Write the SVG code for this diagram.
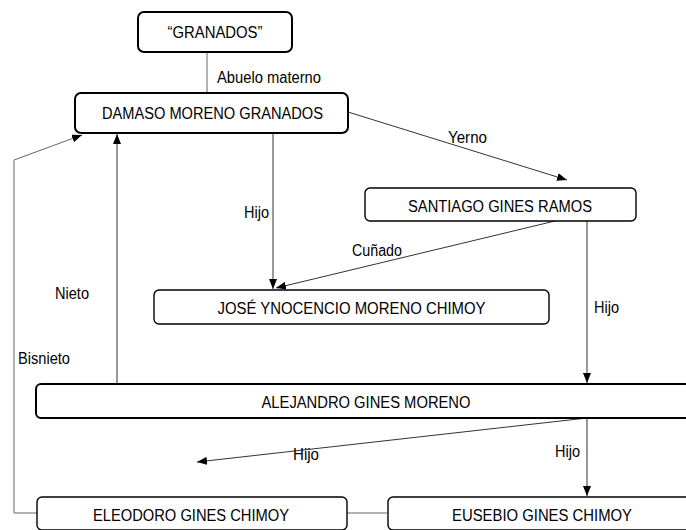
<svg xmlns="http://www.w3.org/2000/svg" width="686" height="530" viewBox="0 0 686 530">
<style>
.box{fill:#fff;stroke:#000;stroke-width:1.4}
.thick{stroke-width:2}
.t{font-family:"Liberation Sans",Arial,sans-serif;font-size:16px;fill:#000}
.c{text-anchor:middle}
.ln{fill:none;stroke:#333;stroke-width:1}
.lg{fill:none;stroke:#666;stroke-width:1}
</style>
<defs>
<marker id="ah" viewBox="0 0 10 8" refX="10" refY="4" markerWidth="10" markerHeight="8" markerUnits="userSpaceOnUse" orient="auto">
<path d="M0,0 L10,4 L0,8 Z" fill="#000"/>
</marker>
</defs>
<rect width="686" height="530" fill="#fff"/>
<g id="connectors">
<path class="lg" d="M207,53 V93"/>
<text class="t" x="217" y="83" textLength="104" lengthAdjust="spacingAndGlyphs">Abuelo materno</text>
<path class="ln" d="M348,112 L567,180" marker-end="url(#ah)"/>
<text class="t" x="448" y="143" textLength="39" lengthAdjust="spacingAndGlyphs">Yerno</text>
<path class="ln" d="M273,133 V289" marker-end="url(#ah)"/>
<text class="t" x="244" y="218" textLength="25" lengthAdjust="spacingAndGlyphs">Hijo</text>
<path class="ln" d="M555,221 L276,288" marker-end="url(#ah)"/>
<text class="t" x="352" y="256" textLength="50" lengthAdjust="spacingAndGlyphs">Cuñado</text>
<path class="ln" d="M587,221 V383" marker-end="url(#ah)"/>
<text class="t" x="594" y="313" textLength="25" lengthAdjust="spacingAndGlyphs">Hijo</text>
<path class="ln" d="M117,384 V134" marker-end="url(#ah)"/>
<text class="t" x="55" y="299" textLength="34" lengthAdjust="spacingAndGlyphs">Nieto</text>
<path class="lg" d="M37,513 H14 V160 L82,135" marker-end="url(#ah)"/>
<text class="t" x="18" y="364" textLength="52" lengthAdjust="spacingAndGlyphs">Bisnieto</text>
<path class="ln" d="M587,418 L197,462" marker-end="url(#ah)"/>
<text class="t" x="293" y="460" textLength="26" lengthAdjust="spacingAndGlyphs">Hijo</text>
<path class="ln" d="M587,418 V496" marker-end="url(#ah)"/>
<text class="t" x="555" y="457" textLength="25" lengthAdjust="spacingAndGlyphs">Hijo</text>
<path class="lg" d="M347,513 H387"/>
</g>
<g id="granados">
<rect class="box thick" x="138" y="12" width="154" height="40" rx="6"/>
<text class="t c" x="215" y="38" textLength="95" lengthAdjust="spacingAndGlyphs">“GRANADOS”</text>
</g>
<g id="damaso">
<rect class="box thick" x="75" y="93" width="273" height="40" rx="6"/>
<text class="t c" x="212.5" y="119" textLength="221" lengthAdjust="spacingAndGlyphs">DAMASO MORENO GRANADOS</text>
</g>
<g id="santiago">
<rect class="box" x="365" y="188" width="271" height="33" rx="5"/>
<text class="t c" x="500" y="212" textLength="184" lengthAdjust="spacingAndGlyphs">SANTIAGO GINES RAMOS</text>
</g>
<g id="jose">
<rect class="box" x="154" y="290" width="395" height="34" rx="5"/>
<text class="t c" x="351.5" y="314" textLength="268" lengthAdjust="spacingAndGlyphs">JOSÉ YNOCENCIO MORENO CHIMOY</text>
</g>
<g id="alejandro">
<rect class="box thick" x="36" y="384" width="660" height="34" rx="5"/>
<text class="t c" x="366" y="408" textLength="209" lengthAdjust="spacingAndGlyphs">ALEJANDRO GINES MORENO</text>
</g>
<g id="eleodoro">
<rect class="box" x="37" y="497" width="310" height="33" rx="5"/>
<text class="t c" x="191" y="521" textLength="196" lengthAdjust="spacingAndGlyphs">ELEODORO GINES CHIMOY</text>
</g>
<g id="eusebio">
<rect class="box" x="388" y="497" width="308" height="33" rx="5"/>
<text class="t c" x="542" y="521" textLength="180" lengthAdjust="spacingAndGlyphs">EUSEBIO GINES CHIMOY</text>
</g>
</svg>
